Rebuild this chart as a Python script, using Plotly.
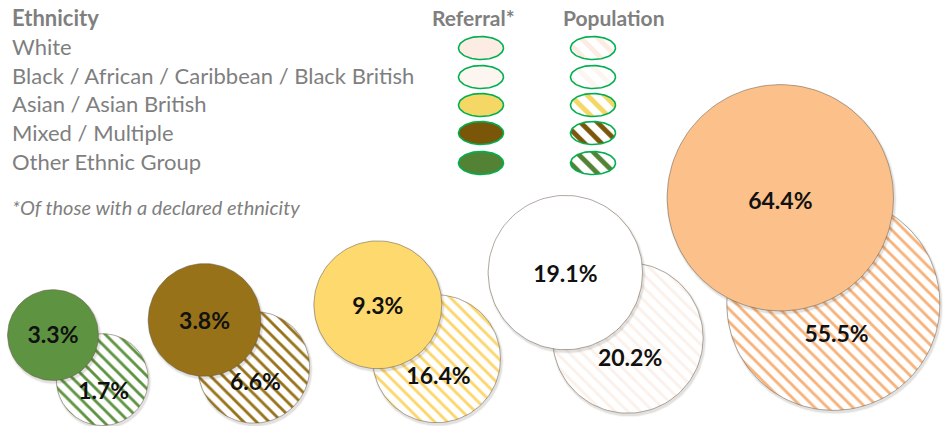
import numpy as np
import plotly.graph_objects as go

# ---------------- data ----------------
groups = ["Other Ethnic Group", "Mixed / Multiple", "Asian / Asian British",
          "Black / African / Caribbean / Black British", "White"]
referral = [3.3, 3.8, 9.3, 19.1, 64.4]
population = [1.7, 6.6, 16.4, 20.2, 55.5]

# bubble chart coordinates (chart units) and bubble diameters (chart units)
ref_x = [5.6, 21.6, 39.9, 59.7, 82.4]
ref_y = [9.6, 11.2, 12.8, 16.2, 24.1]
ref_size = [9.6, 11.9, 13.5, 16.3, 23.9]
pop_x = [10.8, 26.8, 46.1, 66.3, 88.0]
pop_y = [4.9, 6.2, 7.1, 9.3, 12.9]
pop_size = [9.7, 11.8, 13.5, 15.9, 22.5]

legend_labels = ["White", "Black / African / Caribbean / Black British",
                 "Asian / Asian British", "Mixed / Multiple", "Other Ethnic Group"]

# ---------------- styles ----------------
W, H = 947, 426
XMAX = 100.0
YMAX = XMAX * H / W
PX = W / XMAX  # px per unit

ref_colors = ["#5e9341", "#977219", "#fdd96e", "#ffffff", "#fcc08a"]
pop_colors = ["#5e9341", "#977219", "#fcd66a", "#fbf1ea", "#f7b27a"]
legend_fill = ["#fdece3", "#fdf5f0", "#f4d764", "#7a5608", "#548235"]
gray = "#7f7f7f"
FONT = "Lato"


def circle(cx, cy, d, n=120):
    t = np.linspace(0, 2 * np.pi, n)
    r = d / 2
    return cx + r * np.cos(t), cy + r * np.sin(t)


def ellipse(cx, cy, rx, ry, n=80):
    t = np.linspace(0, 2 * np.pi, n)
    return cx + rx * np.cos(t), cy + ry * np.sin(t)


fig = go.Figure()


def add_bubble(cx, cy, d, color, hatched):
    off = 2.0 / PX
    # soft shadow
    for k, a in [(4.0, 0.05), (2.0, 0.10)]:
        xs, ys = circle(cx + off * 0.6, cy - off, d + k / PX)
        fig.add_trace(go.Scatter(x=xs, y=ys, mode="lines", fill="toself",
                                 fillcolor=f"rgba(60,50,40,{a})",
                                 line=dict(width=0), hoverinfo="skip",
                                 showlegend=False))
    xs, ys = circle(cx, cy, d)
    kw = {}
    if hatched:
        kw["fillpattern"] = dict(shape="\\", fgcolor=color, bgcolor="white",
                                 fgopacity=1, size=9, solidity=0.32)
        kw["fillcolor"] = "white"
    else:
        kw["fillcolor"] = color
    fig.add_trace(go.Scatter(x=xs, y=ys, mode="lines", fill="toself",
                             line=dict(width=1, color="rgba(100,85,70,0.5)"),
                             hoverinfo="skip", showlegend=False, **kw))


for i in range(len(groups)):
    add_bubble(pop_x[i], pop_y[i], pop_size[i], pop_colors[i], True)
for i in range(len(groups)):
    add_bubble(ref_x[i], ref_y[i], ref_size[i], ref_colors[i], False)

label_font = dict(family=FONT, size=23, color="#111111")
fig.add_trace(go.Scatter(
    x=[x for x in ref_x],
    y=[y - 0.05 * s / 2 for y, s in zip(ref_y, ref_size)],
    mode="text", text=[f"<b>{v:.1f}%</b>" for v in referral],
    textfont=label_font, hoverinfo="skip", showlegend=False))
fig.add_trace(go.Scatter(
    x=[x + 0.03 * s / 2 for x, s in zip(pop_x, pop_size)],
    y=[y - 0.3 * s / 2 for y, s in zip(pop_y, pop_size)],
    mode="text", text=[f"<b>{v:.1f}%</b>" for v in population],
    textfont=label_font, hoverinfo="skip", showlegend=False))

# ---------------- custom legend ----------------
def ux(px):
    return px / PX


def uy(py):
    return (H - py) / PX


row_y = [48, 77, 105, 133, 163]
for i, lab in enumerate(legend_labels):
    cy = uy(row_y[i])
    xs, ys = ellipse(ux(481), cy, ux(22.5), ux(11.5))
    fig.add_trace(go.Scatter(x=xs, y=ys, mode="lines", fill="toself",
                             fillcolor=legend_fill[i],
                             line=dict(width=1.6, color="#00b050"),
                             hoverinfo="skip", showlegend=False))
    xs, ys = ellipse(ux(593), cy, ux(22.5), ux(11.5))
    fig.add_trace(go.Scatter(x=xs, y=ys, mode="lines", fill="toself",
                             fillcolor="white",
                             fillpattern=dict(shape="\\", fgcolor=legend_fill[i],
                                              bgcolor="white", fgopacity=1,
                                              size=12, solidity=0.4),
                             line=dict(width=1.6, color="#00b050"),
                             hoverinfo="skip", showlegend=False))

annotations = []


def text(px, py, s, size, bold=False, italic=False, anchor="left"):
    if bold:
        s = f"<b>{s}</b>"
    if italic:
        s = f"<i>{s}</i>"
    annotations.append(dict(x=px / W, y=1 - py / H, xref="paper", yref="paper",
                            text=s, showarrow=False, xanchor=anchor,
                            yanchor="middle",
                            font=dict(family=FONT, size=size, color=gray)))


text(10, 18, "Ethnicity", 22, bold=True)
text(474, 18, "Referral*", 21, bold=True, anchor="center")
text(614, 18, "Population", 21, bold=True, anchor="center")
text_rows = [46, 75, 104, 133, 162]
for i, lab in enumerate(legend_labels):
    text(10, text_rows[i], lab, 22)
text(10, 207, "*Of those with a declared ethnicity", 20, italic=True)

fig.update_layout(
    width=W, height=H,
    margin=dict(l=0, r=0, t=0, b=0),
    paper_bgcolor="white", plot_bgcolor="white",
    xaxis=dict(range=[0, XMAX], visible=False, fixedrange=True),
    yaxis=dict(range=[0, YMAX], visible=False, fixedrange=True),
    annotations=annotations,
    showlegend=False,
)

fig.write_html("out.html", config={"displayModeBar": False},
               post_script="document.body.style.margin='0';"
                           "document.body.style.overflow='hidden';")
